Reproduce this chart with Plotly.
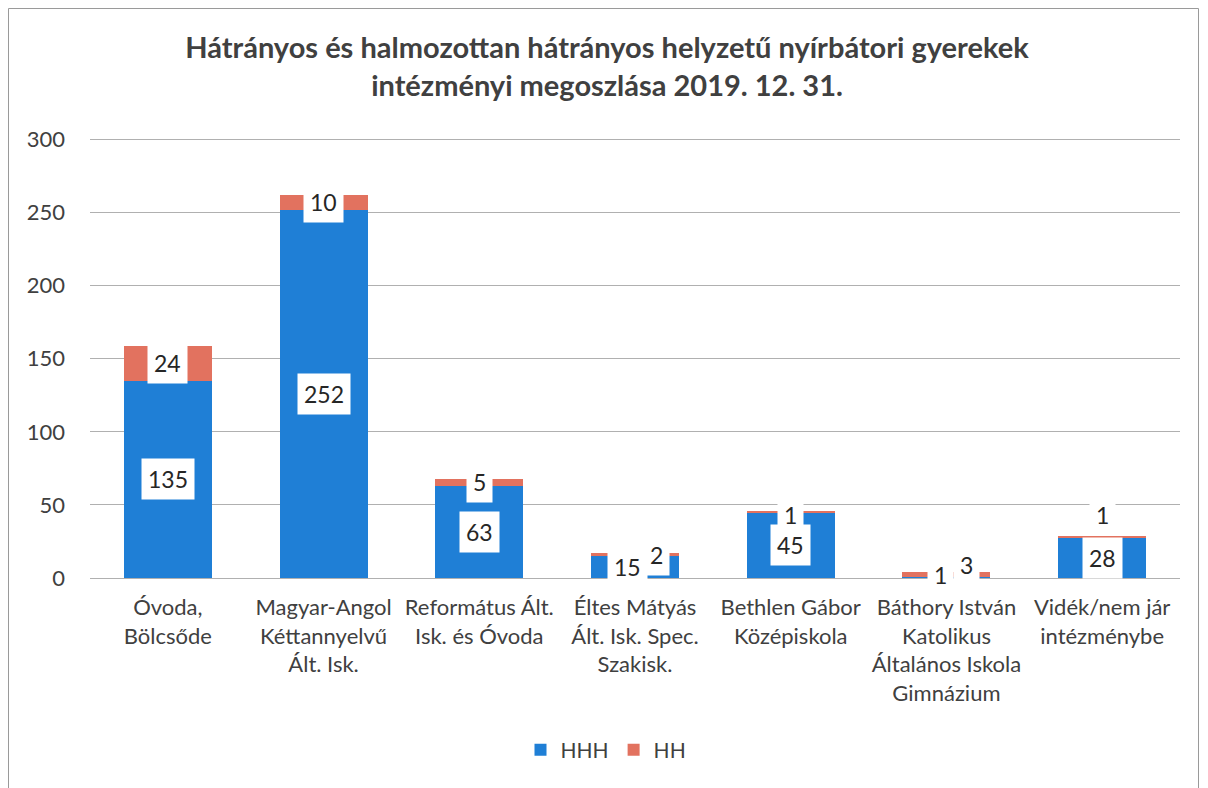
import plotly.graph_objects as go

categories = [
    "Óvoda,<br>Bölcsőde",
    "Magyar-Angol<br>Kéttannyelvű<br>Ált. Isk.",
    "Református Ált.<br>Isk. és Óvoda",
    "Éltes Mátyás<br>Ált. Isk. Spec.<br>Szakisk.",
    "Bethlen Gábor<br>Középiskola",
    "Báthory István<br>Katolikus<br>Általános Iskola<br>Gimnázium",
    "Vidék/nem jár<br>intézménybe",
]
hhh = [135, 252, 63, 15, 45, 1, 28]
hh = [24, 10, 5, 2, 1, 3, 1]

# manual label nudges (pixels), as in the original chart
hhh_xshift = [0, 0, 0, -8, 0, -6, 0]
hhh_yshift = [0, 0, 0, 0, 0, 2, 0]
hh_xshift = [0, 0, 0, 21, 0, 20, 0]
hh_yshift = [0, 0, 0, 0, -4, 9, 21]

BLUE = "#1f7fd6"
RED = "#e2725f"
FONT = "Lato, 'Open Sans', sans-serif"
TXT = "#404040"

W, H = 1192, 780
L, R, T, B = 82, 20, 130, 210
pw, ph = W - L - R, H - T - B

fig = go.Figure()
fig.add_trace(go.Bar(x=categories, y=hhh, name="HHH", marker_color=BLUE, marker_line_width=0))
fig.add_trace(go.Bar(x=categories, y=hh, name="HH", marker_color=RED, marker_line_width=0))

annotations = []
for i, c in enumerate(categories):
    annotations.append(dict(
        x=c, y=hhh[i] / 2, xref="x", yref="y", text=str(hhh[i]), showarrow=False,
        bgcolor="white", borderpad=6, font=dict(size=23, color="#262626", family=FONT),
        xshift=hhh_xshift[i], yshift=hhh_yshift[i]))
    annotations.append(dict(
        x=c, y=hhh[i] + hh[i] / 2, xref="x", yref="y", text=str(hh[i]), showarrow=False,
        bgcolor="white", borderpad=6, font=dict(size=23, color="#262626", family=FONT),
        xshift=hh_xshift[i], yshift=hh_yshift[i]))

fig.update_layout(
    width=W, height=H,
    barmode="stack", bargap=0.435,
    paper_bgcolor="white", plot_bgcolor="white",
    margin=dict(l=L, r=R, t=T, b=B, pad=0),
    font=dict(family=FONT, color=TXT, size=22),
    title=dict(
        text="<b>Hátrányos és halmozottan hátrányos helyzetű nyírbátori gyerekek<br>intézményi megoszlása 2019. 12. 31.</b>",
        x=(L + pw / 2 - 28) / W, xanchor="center", y=1 - 50 / H, yanchor="top",
        font=dict(size=29, color=TXT, family=FONT)),
    xaxis=dict(showline=False, ticks="", tickfont=dict(size=22, color=TXT), tickangle=0,
               ticklabelstandoff=14),
    yaxis=dict(range=[0, 301], dtick=50, showgrid=True, gridcolor="#b0b0b0", gridwidth=1,
               zeroline=True, zerolinecolor="#b0b0b0", zerolinewidth=1, showline=False,
               tickfont=dict(size=22, color=TXT), ticklabelstandoff=24),
    legend=dict(orientation="h", x=(598 - L) / pw, xanchor="center", y=-172 / ph, yanchor="middle",
                font=dict(size=21, color=TXT), traceorder="normal", itemwidth=30),
    annotations=annotations,
    shapes=[dict(type="rect", xref="paper", yref="paper",
                 x0=-(L - 0.5) / pw, x1=(W - 1.5 - L) / pw, y0=-(B + 10) / ph, y1=1 + (T - 0.5) / ph,
                 line=dict(color="#9a9a9a", width=1), fillcolor="rgba(0,0,0,0)", layer="below")],
)

fig.write_html("out.html")
